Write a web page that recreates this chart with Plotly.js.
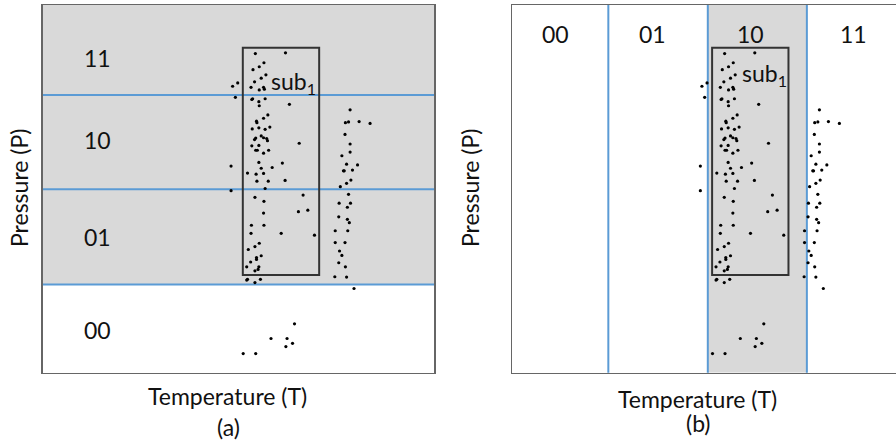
<!DOCTYPE html>
<html>
<head>
<meta charset="utf-8">
<script src="https://cdn.plot.ly/plotly-3.0.1.min.js"></script>
<style>html,body{margin:0;padding:0;background:#fff;}#chart{width:896px;height:443px;}</style>
</head>
<body>
<div id="chart"></div>
<script>
// Observed points: temperature (T) and pressure (P), arbitrary 0-100 units
const temperature = [54.3,62.0,56.5,55.3,53.7,57.0,55.8,54.1,49.8,48.5,53.2,56.4,55.3,56.6,49.2,53.4,53.6,56.8,55.2,55.3,63.0,
  57.5,56.4,54.6,54.7,53.5,55.2,56.8,58.0,55.8,54.4,54.1,56.4,57.2,57.4,53.4,55.2,54.4,54.8,56.4,57.7,65.5,48.1,55.2,55.8,58.6,61.2,52.3,54.5,56.4,54.7,57.6,61.9,56.8,48.1,
  54.2,56.5,66.5,65.3,67.7,56.4,53.3,56.5,53.2,60.9,69.4,55.3,54.2,52.5,55.8,54.6,54.6,53.1,52.1,55.2,55.0,54.2,52.3,52.1,55.6,54.2,
  64.3,58.3,62.4,63.8,62.1,51.2,54.4,
  78.5,78.1,77.3,80.8,83.6,77.2,78.5,78.5,76.4,77.6,80.4,76.8,77.0,79.1,78.7,77.6,76.0,78.1,75.7,78.6,77.8,75.6,77.8,78.3,74.7,77.9,74.7,77.2,75.8,76.4,75.6,77.3,74.6,77.6,79.5];
const pressure = [86.8,87.0,84.3,83.2,82.4,81.0,80.1,79.1,78.8,77.9,77.6,77.6,76.9,77.1,74.9,74.3,74.5,74.5,73.7,72.6,73.0,
  70.1,69.2,68.4,68.0,66.3,66.6,66.2,66.8,64.4,63.8,63.4,63.9,63.7,63.1,61.7,61.8,60.5,60.5,59.7,60.5,62.4,56.2,57.2,55.6,55.8,57.0,54.3,54.0,54.2,52.1,52.1,52.3,50.1,49.5,
  47.7,46.6,48.3,43.8,44.2,43.4,40.1,40.1,37.9,37.9,37.4,35.2,34.3,33.5,31.8,31.3,30.8,30.1,28.8,28.8,28.1,27.7,25.4,25.2,25.4,24.5,
  13.3,9.3,9.3,8.0,7.1,5.2,5.2,
  71.5,68.2,68.0,68.3,67.8,64.8,62.2,60.0,59.0,56.7,56.5,54.9,54.9,55.1,52.4,51.5,50.6,48.5,46.1,46.1,45.0,42.4,41.7,40.8,38.6,38.6,35.4,35.4,33.1,31.9,29.9,28.8,26.1,26.0,22.9];

// Bin codes and bin boundaries
const binLabels = ['00','01','10','11'];
const pressureEdges = [24.0, 49.9, 75.5];      // panel (a): partition on P
const temperatureEdges = [24.6, 50.0, 75.3];   // panel (b): partition on T
const pressureShadedFrom = 24.0;               // panel (a): bins 01,10,11 shaded
const temperatureShaded = [50.0, 75.3];        // panel (b): bin 10 shaded
// Subspace sub1
const subName = 'sub<sub>1</sub>';
const subT = [51.1, 70.6];
const subP = [26.6, 88.4];
// Bin label positions
const labelPosA = [11.6, 36.9, 63.3, 85.6];   // P positions of labels in (a)
const labelPosB = [11.2, 36.0, 61.0, 87.1];   // T positions of labels in (b)

const FONT = 'Lato, "Noto Sans", sans-serif';
const BLUE = '#5b9bd5';
const GRAY = '#d9d9d9';
const INK = '#111';

const dots = (xa, ya) => ({
  type: 'scatter', mode: 'markers', x: temperature, y: pressure,
  xaxis: xa, yaxis: ya, hoverinfo: 'skip',
  marker: {color: '#000', size: 3.2}
});

const shapes = [];
// panel a shading & lines
shapes.push({type:'rect', xref:'x', yref:'y', x0:0, x1:100, y0:pressureShadedFrom, y1:100, fillcolor:GRAY, line:{width:0}, layer:'below'});
pressureEdges.forEach(p => shapes.push({type:'line', xref:'x', yref:'y', x0:0, x1:100, y0:p, y1:p, line:{color:BLUE, width:2}, layer:'below'}));
shapes.push({type:'rect', xref:'x', yref:'y', x0:subT[0], x1:subT[1], y0:subP[0], y1:subP[1], line:{color:'#333', width:2}, fillcolor:'rgba(0,0,0,0)'});
// panel b
shapes.push({type:'rect', xref:'x2', yref:'y2', x0:temperatureShaded[0], x1:temperatureShaded[1], y0:0, y1:100, fillcolor:GRAY, line:{width:0}, layer:'below'});
temperatureEdges.forEach(t => shapes.push({type:'line', xref:'x2', yref:'y2', x0:t, x1:t, y0:-1, y1:100, line:{color:BLUE, width:2}, layer:'below'}));
shapes.push({type:'rect', xref:'x2', yref:'y2', x0:subT[0], x1:subT[1], y0:subP[0], y1:subP[1], line:{color:'#333', width:2}, fillcolor:'rgba(0,0,0,0)'});

const annotations = [];
const lf = {family:FONT, size:23, color:INK};
binLabels.forEach((lab, i) => {
  annotations.push({xref:'x', yref:'y', x:14.0, y:labelPosA[i], text:lab, showarrow:false, xanchor:'center', yanchor:'middle', font:lf});
  annotations.push({xref:'x2', yref:'y2', x:labelPosB[i], y:92.1, text:lab, showarrow:false, xanchor:'center', yanchor:'middle', font:lf});
});
annotations.push({xref:'x', yref:'y', x:64.0, y:79.0, text:subName, showarrow:false, xanchor:'center', yanchor:'middle', font:lf});
annotations.push({xref:'x2', yref:'y2', x:64.6, y:81.2, text:subName, showarrow:false, xanchor:'center', yanchor:'middle', font:lf});
// axis titles
const tf = {family:FONT, size:23, color:INK};
const txt = (x, y, text, angle) => ({xref:'paper', yref:'paper', x:x/896, y:1-y/443, text:text, textangle:angle||0, showarrow:false, xanchor:'center', yanchor:'middle', font:tf});
annotations.push(txt(227.5, 396, 'Temperature (T)'));
annotations.push(txt(228, 427, '(a)'));
annotations.push(txt(697, 399, 'Temperature (T)'));
annotations.push(txt(698, 423, '(b)'));
annotations.push(txt(19, 188, 'Pressure (P)', -90));
annotations.push(txt(470, 188, 'Pressure (P)', -90));

const ax = (extra) => Object.assign({showgrid:false, zeroline:false, showticklabels:false, ticks:'', showline:true, linecolor:'#666', linewidth:1.3, fixedrange:true}, extra);

const yDom = [1-372.7/443, 1-5/443];
const layout = {
  width: 896, height: 443,
  margin: {l:0, r:0, t:0, b:0},
  paper_bgcolor: '#fff', plot_bgcolor: 'rgba(0,0,0,0)',
  showlegend: false, hovermode: false,
  xaxis: ax({domain:[42.7/896, 434.3/896], range:[0,100], mirror:true}),
  yaxis: ax({domain:yDom, range:[0,100], mirror:true}),
  xaxis2: ax({domain:[512/896, 1], range:[0,(896-512)/3.916], mirror:true, anchor:'y2'}),
  yaxis2: ax({domain:yDom, range:[0,100], mirror:false, anchor:'x2'}),
  shapes: shapes,
  annotations: annotations
};

Plotly.newPlot('chart', [dots('x','y'), dots('x2','y2')], layout, {displayModeBar:false, staticPlot:true});
</script>
</body>
</html>
